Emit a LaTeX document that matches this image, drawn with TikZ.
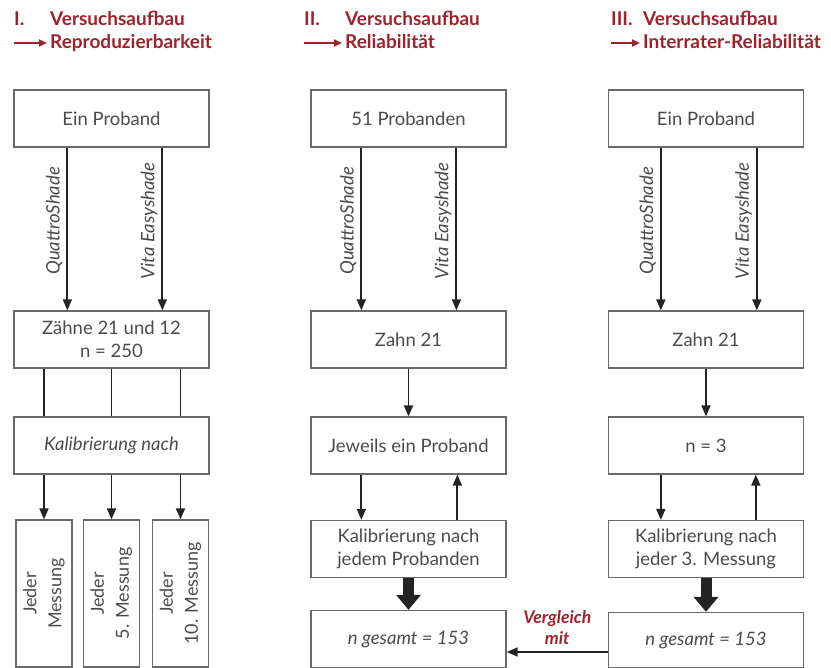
\documentclass[tikz,border=0pt]{standalone}
\usepackage{fontspec}
\setmainfont{Lato}
\usetikzlibrary{arrows.meta,positioning}
\definecolor{TitleRed}{RGB}{158,34,45}
\definecolor{BoxGray}{RGB}{105,105,105}
\definecolor{TextGray}{RGB}{75,75,75}
\definecolor{ArrowBlack}{RGB}{35,35,35}

\begin{document}
\begin{tikzpicture}[x=1pt, y=-1pt,
  every node/.style={font=\fontsize{18.5}{23.5}\selectfont, text=TextGray},
  box/.style={draw=BoxGray, line width=1.3pt, minimum width=195pt, minimum height=57pt, align=center, inner sep=2pt},
  tallbox/.style={draw=BoxGray, line width=1.3pt, rotate=90, minimum width=147pt, minimum height=56pt, align=center, inner sep=2pt, font=\fontsize{18}{25}\selectfont},
  arr/.style={-{Triangle[width=9pt,length=11pt]}, line width=1.8pt, draw=ArrowBlack},
  plain/.style={line width=1.8pt, draw=ArrowBlack},
  fat/.style={-{Triangle[width=24pt,length=15pt]}, line width=11pt, draw=ArrowBlack},
  title/.style={anchor=base west, inner sep=0pt, text=TitleRed, font=\fontsize{19}{22}\selectfont\bfseries},
  titlearr/.style={-{Triangle[width=7pt,length=8pt]}, line width=2pt, draw=TitleRed},
  device/.style={rotate=90, anchor=south, inner sep=4pt, font=\fontsize{18.5}{22}\selectfont\itshape}]
\useasboundingbox (0,0) rectangle (831,668);

% titles
\node[title] (t1a) at (14,26) {I.};
\node[title] (t1b) at (50,26) {Versuchsaufbau};
\node[title] (t1d) at (50,49) {Reproduzierbarkeit};
\node[title] (t2a) at (304,26) {II.};
\node[title] (t2b) at (345,26) {Versuchsaufbau};
\node[title] (t2d) at (345,49) {Reliabilität};
\node[title] (t3a) at (611,26) {III.};
\node[title] (t3b) at (643,26) {Versuchsaufbau};
\node[title] (t3d) at (643,49) {Interrater-Reliabilität};
\coordinate (t1s) at (14,43);
\coordinate (t2s) at (304,43);
\coordinate (t3s) at (611,43);
\draw[titlearr] (t1s) -- ([xshift=-3pt]t1s -| t1d.west);
\draw[titlearr] (t2s) -- ([xshift=-3pt]t2s -| t2d.west);
\draw[titlearr] (t3s) -- ([xshift=-3pt]t3s -| t3d.west);

% column I
\node[box] (top1) at (111.5,118.5) {Ein Proband};
\node[box] (zahn1) at (111.5,339.5) {Zähne 21 und 12\\n = 250};
\node[box] (kal1) at (111.5,445.5) {\itshape Kalibrierung nach};
\node[tallbox] (je1) at (44,593.5) {Jeder\\Messung};
\node[tallbox] (je5) at (111.5,593.5) {Jeder\\5. Messung};
\node[tallbox] (je10) at (180.5,593.5) {Jeder\\10. Messung};

\draw[arr] ([xshift=54pt]top1.south west) -- node[device, pos=0.45] {QuattroShade} ([xshift=54pt]zahn1.north west);
\draw[arr] ([xshift=149pt]top1.south west) -- node[device, pos=0.45] {Vita Easyshade} ([xshift=149pt]zahn1.north west);
\draw[plain] (zahn1.south -| je1) -- (kal1.north -| je1);
\draw[plain] (zahn1.south -| je5) -- (kal1.north -| je5);
\draw[plain] (zahn1.south -| je10) -- (kal1.north -| je10);
\draw[arr] (kal1.south -| je1) -- (je1.east);
\draw[arr] (kal1.south -| je5) -- (je5.east);
\draw[arr] (kal1.south -| je10) -- (je10.east);

% column II
\node[box] (top2) at (408.5,118.5) {51 Probanden};
\node[box] (zahn2) at (408.5,339.5) {Zahn 21};
\node[box] (jew2) at (408.5,445.5) {Jeweils ein Proband};
\node[box] (kal2) at (408.5,549) {Kalibrierung nach\\jedem Probanden};
\node[box] (ng2) at (408.5,639) {\itshape n gesamt = 153};

\draw[arr] ([xshift=51pt]top2.south west) -- node[device, pos=0.45] {QuattroShade} ([xshift=51pt]zahn2.north west);
\draw[arr] ([xshift=146pt]top2.south west) -- node[device, pos=0.45] {Vita Easyshade} ([xshift=146pt]zahn2.north west);
\draw[arr] (zahn2) -- (jew2);
\draw[arr] ([xshift=51pt]jew2.south west) -- ([xshift=51pt]kal2.north west);
\draw[arr] ([xshift=147pt]kal2.north west) -- ([xshift=147pt]jew2.south west);
\draw[fat] (kal2) -- (ng2);

% column III
\node[box] (top3) at (706,118.5) {Ein Proband};
\node[box] (zahn3) at (706,339.5) {Zahn 21};
\node[box] (drei3) at (706,445.5) {n = 3};
\node[box] (kal3) at (706,549) {Kalibrierung nach\\jeder 3. Messung};
\node[box, minimum height=55pt] (ng3) at (706,640) {\itshape n gesamt = 153};

\draw[arr] ([xshift=53pt]top3.south west) -- node[device, pos=0.45] {QuattroShade} ([xshift=53pt]zahn3.north west);
\draw[arr] ([xshift=149pt]top3.south west) -- node[device, pos=0.45] {Vita Easyshade} ([xshift=149pt]zahn3.north west);
\draw[arr] (zahn3) -- (drei3);
\draw[arr] ([xshift=53pt]drei3.south west) -- ([xshift=53pt]kal3.north west);
\draw[arr] ([xshift=148pt]kal3.north west) -- ([xshift=148pt]drei3.south west);
\draw[fat] (kal3) -- (ng3);

% comparison
\coordinate (vgl) at ([yshift=-12pt]ng3.west);
\draw[arr] (vgl) -- node[above=3pt, align=center, text=TitleRed, font=\fontsize{17.5}{21}\selectfont\bfseries\itshape] {Vergleich\\mit} (vgl -| ng2.east);
\end{tikzpicture}
\end{document}
